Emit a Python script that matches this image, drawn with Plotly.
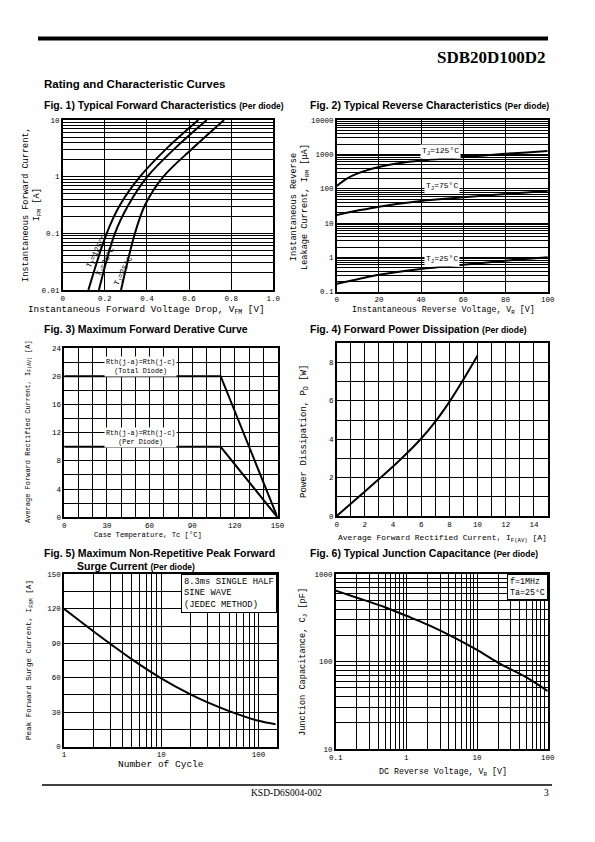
import math
import plotly.graph_objects as go

# page is 595x842; the browser body adds an 8px margin, so the figure is 579x826
PAGE_OFF = 8
W, H = 595 - 2 * PAGE_OFF, 842 - 2 * PAGE_OFF
MONO = "Courier New, Liberation Mono, monospace"
SANS = "Liberation Sans, Arial, sans-serif"
NARROW = "Liberation Sans Narrow, Arial Narrow, Liberation Sans, sans-serif"
SERIF = "Liberation Serif, Times New Roman, serif"

# ---------------- data ----------------
# Fig 1: forward characteristics (I in A, V in V)
fwd_current = [0.01, 0.1, 0.316, 1, 3.16, 10]
fwd_v_125 = [0.122, 0.209, 0.272, 0.367, 0.494, 0.644]
fwd_v_75 = [0.172, 0.248, 0.312, 0.402, 0.533, 0.684]
fwd_v_25 = [0.277, 0.343, 0.391, 0.478, 0.617, 0.766]
fig1_x_ticks = ["0", "0.2", "0.4", "0.6", "0.8", "1.0"]
fig1_y_ticks = ["0.01", "0.1", "1", "10"]

# Fig 2: reverse characteristics (uA vs V)
rev_v = [0, 5, 10, 20, 30, 40, 50, 60, 70, 80, 90, 100]
rev_i_125 = [120, 200, 280, 430, 560, 660, 740, 830, 930, 1040, 1140, 1250]
rev_v_lo = [0, 10, 20, 40, 60, 80, 100]
rev_i_75 = [17, 23, 30, 44, 56, 70, 85]
rev_i_25 = [0.17, 0.23, 0.31, 0.46, 0.61, 0.8, 1.0]
fig2_y_ticks = ["0.1", "1", "10", "100", "1000", "10000"]

# Fig 3: derating
case_temp = [0, 110, 150]
derate_total = [20, 20, 0]
derate_per = [10, 10, 0]

# Fig 4: power dissipation
pd_current = [0, 1, 2, 3, 4, 5, 6, 7, 8, 9, 10]
pd_power = [0, 0.64, 1.28, 1.93, 2.58, 3.28, 4.04, 4.92, 5.95, 7.12, 8.36]

# Fig 5: surge current
cycles = [1, 2, 3, 5, 10, 20, 30, 50, 100, 150]
surge = [120, 100.5, 89.5, 76, 59.5, 45.5, 38.5, 31, 22.5, 19.5]
fig5_x_ticks = ["1", "10", "100"]

# Fig 6: junction capacitance
cap_v = [0.1, 0.2, 0.5, 1, 2, 5, 10, 20, 50, 100]
cap_pf = [650, 540, 420, 335, 265, 185, 136, 97, 66, 46]
fig6_x_ticks = ["0.1", "1", "10", "100"]
fig6_y_ticks = ["10", "100", "1000"]


# ---------------- helpers ----------------
def fx(p):
    return (p - PAGE_OFF) / W


def fy(p):
    return 1 - (p - PAGE_OFF) / H


def decades(lo, hi):
    return [10 ** e for e in range(lo, hi + 1)]


def log_minor(lo, hi):
    return [m * 10 ** e for e in range(lo, hi) for m in range(2, 10)]


def ax(**kw):
    d = dict(showline=True, linecolor="black", linewidth=1.5, mirror=True,
             showgrid=True, gridcolor="black", gridwidth=1, zeroline=False,
             ticks="", tickfont=dict(family=MONO, size=7.5, color="black"),
             fixedrange=True, automargin=False)
    d.update(kw)
    return d


def minor(dt):
    return dict(dtick=dt, showgrid=True, gridcolor="black", gridwidth=1, ticks="")


def minor_log(lo, hi):
    return dict(tickmode="array", tickvals=log_minor(lo, hi), showgrid=True,
                gridcolor="black", gridwidth=1, ticks="")


LINE = dict(color="black", width=2, shape="spline", smoothing=1.0)

fig = go.Figure()


def add(x, y, n, shape="spline"):
    suffix = "" if n == 1 else str(n)
    ln = dict(LINE)
    ln["shape"] = shape
    if shape != "spline":
        ln.pop("smoothing")
    fig.add_trace(go.Scatter(x=x, y=y, mode="lines", line=ln,
                             xaxis="x" + suffix, yaxis="y" + suffix,
                             showlegend=False, hoverinfo="skip"))


add(fwd_v_125, fwd_current, 1)
add(fwd_v_75, fwd_current, 1)
add(fwd_v_25, fwd_current, 1)
add(rev_v, rev_i_125, 2)
add(rev_v_lo, rev_i_75, 2)
add(rev_v_lo, rev_i_25, 2)
add(case_temp, derate_total, 3, "linear")
add(case_temp, derate_per, 3, "linear")
add(pd_current, pd_power, 4)
add(cycles, surge, 5)
add(cap_v, cap_pf, 6)

# domains in page pixels
dom = {
    1: ((62.7, 273.3), (120, 290)),
    2: ((336.7, 547.7), (120, 291.7)),
    3: ((64.3, 277.5), (348, 517.3)),
    4: ((336.7, 548), (343.3, 516)),
    5: ((64, 276.7), (574.3, 746.7)),
    6: ((335.7, 547.7), (574.3, 749)),
}


def xd(n):
    a, b = dom[n][0]
    return [fx(a), fx(b)]


def yd(n):
    a, b = dom[n][1]
    return [fy(b), fy(a)]


layout = dict(
    width=W, height=H, margin=dict(l=0, r=0, t=0, b=0, pad=0, autoexpand=False),
    paper_bgcolor="white", plot_bgcolor="white", showlegend=False,
    xaxis=ax(domain=xd(1), anchor="y", range=[0, 1], tickvals=[0, 0.2, 0.4, 0.6, 0.8, 1.0],
             ticktext=fig1_x_ticks),
    yaxis=ax(domain=yd(1), anchor="x", type="log", range=[-2, 1], tickvals=decades(-2, 1),
             ticktext=fig1_y_ticks, minor=minor_log(-2, 1)),
    xaxis2=ax(domain=xd(2), anchor="y2", range=[0, 100], dtick=20),
    yaxis2=ax(domain=yd(2), anchor="x2", type="log", range=[-1, 4], tickvals=decades(-1, 4),
              ticktext=fig2_y_ticks, minor=minor_log(-1, 4)),
    xaxis3=ax(domain=xd(3), anchor="y3", range=[0, 150], dtick=30, minor=minor(10)),
    yaxis3=ax(domain=yd(3), anchor="x3", range=[0, 24], dtick=4, minor=minor(2)),
    xaxis4=ax(domain=xd(4), anchor="y4", range=[0, 15], dtick=2, minor=minor(1)),
    yaxis4=ax(domain=yd(4), anchor="x4", range=[0, 9], dtick=2, minor=minor(1)),
    xaxis5=ax(domain=xd(5), anchor="y5", type="log", range=[0, math.log10(154)],
              tickvals=decades(0, 2), ticktext=fig5_x_ticks, minor=minor_log(0, 2)),
    yaxis5=ax(domain=yd(5), anchor="x5", range=[0, 150], dtick=30, minor=minor(15)),
    xaxis6=ax(domain=xd(6), anchor="y6", type="log", range=[-1, 2], tickvals=decades(-1, 2),
              ticktext=fig6_x_ticks, minor=minor_log(-1, 2)),
    yaxis6=ax(domain=yd(6), anchor="x6", type="log", range=[1, 3], tickvals=decades(1, 3),
              ticktext=fig6_y_ticks, minor=minor_log(1, 3)),
)

ann = []


def text(x, y, s, size=8, family=MONO, xanchor="center", yanchor="middle", angle=0,
         xref="paper", yref="paper", **kw):
    d = dict(x=x, y=y, text=s, showarrow=False, xref=xref, yref=yref,
             xanchor=xanchor, yanchor=yanchor, textangle=angle,
             font=dict(family=family, size=size, color="black"))
    d.update(kw)
    ann.append(d)


# page header / titles
text(fx(548), fy(58), "<b>SDB20D100D2</b>", 17, SERIF, xanchor="right")
text(fx(42), fy(84), "<b>Rating and Characteristic Curves</b>", 11.5, SANS, xanchor="left")
small = "<span style='font-size:8.5px'>%s</span>"
text(fx(42), fy(105), "<b>Fig. 1) Typical Forward Characteristics " + small % "(Per diode)" + "</b>",
     10.5, NARROW, xanchor="left")
text(fx(308), fy(105), "<b>Fig. 2) Typical Reverse Characteristics " + small % "(Per diode)" + "</b>",
     10.5, NARROW, xanchor="left")
text(fx(42), fy(329), "<b>Fig. 3) Maximum Forward Derative Curve</b>", 10.5, NARROW, xanchor="left")
text(fx(308), fy(329), "<b>Fig. 4) Forward Power Dissipation " + small % "(Per diode)" + "</b>",
     10.5, NARROW, xanchor="left")
text(fx(42), fy(553), "<b>Fig. 5) Maximum Non-Repetitive Peak Forward</b>", 10.5, NARROW, xanchor="left")
text(fx(75), fy(566), "<b>Surge Current " + small % "(Per diode)" + "</b>", 10.5, NARROW, xanchor="left")
text(fx(308), fy(553), "<b>Fig. 6) Typical Junction Capacitance " + small % "(Per diode)" + "</b>",
     10.5, NARROW, xanchor="left")

# axis titles
text(fx(146), fy(310), "Instantaneous Forward Voltage Drop, V<sub>FM</sub> [V]", 9.3)
text(fx(32), fy(205), "Instantaneous Forward Current,<br>I<sub>FM</sub> [A]", 8.6, angle=-90)
text(fx(443), fy(311), "Instantaneous Reverse Voltage, V<sub>R</sub> [V]", 8.3)
text(fx(300), fy(207), "Instantaneous Reverse<br>Leakage Current, I<sub>RM</sub> [μA]", 8.6, angle=-90)
text(fx(148), fy(535), "Case Temperature, Tc [°C]", 7.2)
text(fx(28), fy(432), "Average Forward Rectified Current, I<sub>F(AV)</sub> [A]", 7.0, angle=-90)
text(fx(442), fy(538), "Average Forward Rectified Current, I<sub>F(AV)</sub> [A]", 8.0)
text(fx(304), fy(432), "Power Dissipation, P<sub>D</sub> [W]", 9.0, angle=-90)
text(fx(161), fy(764), "Number of Cycle", 9.5)
text(fx(30), fy(660), "Peak Forward Surge Current, I<sub>FSM</sub> [A]", 7.6, angle=-90)
text(fx(443), fy(772), "DC Reverse Voltage, V<sub>R</sub> [V]", 8.3)
text(fx(303), fy(662), "Junction Capacitance, C<sub>J</sub> [pF]", 8.6, angle=-90)

# in-plot labels
text(0.166, -1.33, "T<sub>J</sub>=125°C", 7.8, xref="x", yref="y", angle=-63)
text(0.207, -1.50, "T<sub>J</sub>=75°C", 7.8, xref="x", yref="y", angle=-63)
text(0.293, -1.66, "T<sub>J</sub>=25°C", 7.8, xref="x", yref="y", angle=-63)

text(49, 3.07, "T<sub>J</sub>=125°C", 8, xref="x2", yref="y2", bgcolor="white")
text(50, 2.06, "T<sub>J</sub>=75°C", 8, xref="x2", yref="y2", bgcolor="white")
text(50, -0.05, "T<sub>J</sub>=25°C", 8, xref="x2", yref="y2", bgcolor="white")

text(53.5, 21.4, "Rth(j-a)=Rth(j-c)<br>(Total Diode)", 6.8, xref="x3", yref="y3", bgcolor="white")
text(53.5, 11.35, "Rth(j-a)=Rth(j-c)<br>(Per Diode)", 6.8, xref="x3", yref="y3", bgcolor="white")

text(1, 1, "8.3ms SINGLE HALF<br>SINE WAVE<br>(JEDEC METHOD)", 8.8, xref="x5 domain",
     yref="y5 domain", xanchor="right", yanchor="top", align="left", bgcolor="white",
     bordercolor="black", borderwidth=1, borderpad=2)
text(1, 1, "f=1MHz<br>Ta=25°C", 8.3, xref="x6 domain", yref="y6 domain",
     xanchor="right", yanchor="top", align="left", bgcolor="white",
     bordercolor="black", borderwidth=1, borderpad=2)

# footer
text(fx(286), fy(793), "KSD-D6S004-002", 9.5, SERIF)
text(fx(546), fy(793), "3", 9.5, SERIF)

layout["annotations"] = ann
layout["shapes"] = [
    dict(type="rect", xref="paper", yref="paper", x0=fx(38), x1=fx(548), y0=fy(40.5), y1=fy(36.5),
         fillcolor="black", line=dict(width=0)),
    dict(type="line", xref="paper", yref="paper", x0=fx(42), x1=fx(552), y0=fy(785), y1=fy(785),
         line=dict(color="black", width=1.5)),
]

fig.update_layout(**layout)
fig.write_html("out.html")
